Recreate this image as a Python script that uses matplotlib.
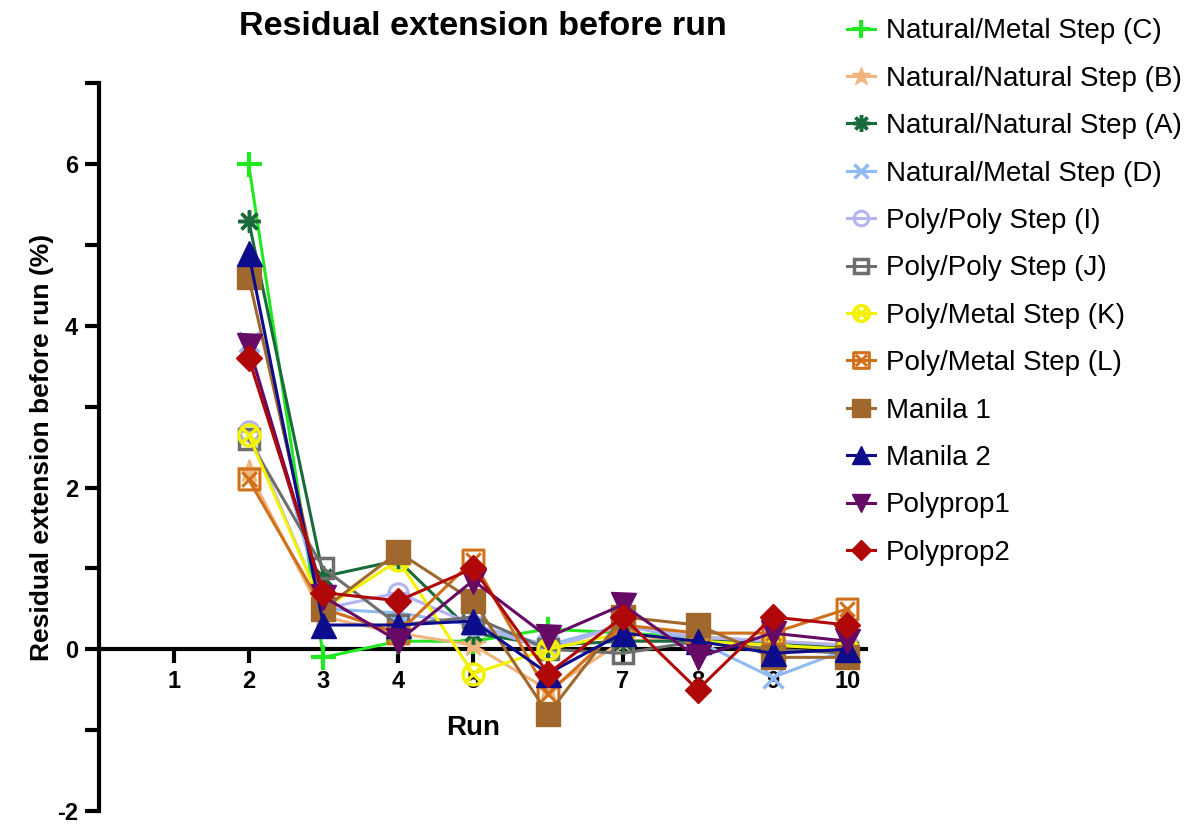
import numpy as np
import matplotlib.pyplot as plt
from matplotlib.path import Path

plt.rcParams['font.family'] = ['Liberation Sans', 'DejaVu Sans']
plt.rcParams['axes.unicode_minus'] = False

runs = [2, 3, 4, 5, 6, 7, 8, 9, 10]

labels = ['Natural/Metal Step (C)', 'Natural/Natural Step (B)', 'Natural/Natural Step (A)',
          'Natural/Metal Step (D)', 'Poly/Poly Step (I)', 'Poly/Poly Step (J)',
          'Poly/Metal Step (K)', 'Poly/Metal Step (L)', 'Manila 1', 'Manila 2',
          'Polyprop1', 'Polyprop2']

step_c = [6.0, -0.1, 0.1, 0.1, 0.25, 0.2, 0.15, 0.1, 0.0]
step_b = [2.2, 0.4, 0.2, 0.05, -0.5, 0.1, 0.15, 0.1, 0.05]
step_a = [5.3, 0.9, 1.1, 0.2, 0.05, 0.1, 0.1, 0.1, 0.0]
step_d = [3.8, 0.5, 0.45, 0.3, 0.05, 0.3, 0.1, -0.35, 0.0]
step_i = [2.7, 0.5, 0.7, 0.3, 0.0, 0.3, 0.15, 0.1, 0.05]
step_j = [2.6, 1.0, 0.3, 0.4, 0.0, -0.05, 0.1, 0.0, -0.05]
step_k = [2.65, 0.5, 1.1, -0.3, 0.0, 0.2, 0.1, 0.05, 0.0]
step_l = [2.1, 0.5, 0.2, 1.1, -0.55, 0.3, 0.2, 0.2, 0.5]
manila1 = [4.6, 0.5, 1.2, 0.6, -0.8, 0.4, 0.3, -0.1, -0.1]
manila2 = [4.9, 0.3, 0.3, 0.35, -0.3, 0.2, 0.1, -0.05, 0.0]
polyprop1 = [3.75, 0.65, 0.1, 0.85, 0.15, 0.55, -0.1, 0.2, 0.1]
polyprop2 = [3.6, 0.7, 0.6, 1.0, -0.3, 0.4, -0.5, 0.4, 0.3]

series = [step_c, step_b, step_a, step_d, step_i, step_j, step_k, step_l,
          manila1, manila2, polyprop1, polyprop2]

colors = ['#22e822', '#f0b47c', '#1a6b3c', '#8fbaf2', '#b4b4f2', '#6e6e6e',
          '#f2f200', '#d0701a', '#a0682c', '#0c0c8c', '#660a66', '#b00808']


# circle / square with an x inside
def boxed_x(outline):
    cross = Path([(-0.7, -0.7), (0.7, 0.7), (-0.7, 0.7), (0.7, -0.7)],
                 [Path.MOVETO, Path.LINETO, Path.MOVETO, Path.LINETO])
    return Path.make_compound_path(outline, cross)


circ_x = boxed_x(Path.unit_circle())
sq = Path([(-1, -1), (1, -1), (1, 1), (-1, 1), (-1, -1)],
          [Path.MOVETO, Path.LINETO, Path.LINETO, Path.LINETO, Path.CLOSEPOLY])
sq_x = boxed_x(sq)
circ_line = Path.make_compound_path(
    Path.unit_circle(), Path([(-1, 0), (1, 0)], [Path.MOVETO, Path.LINETO]))

styles = [
    dict(marker='+', ms=18, mew=3),
    dict(marker='*', ms=18),
    dict(marker=(8, 2, 0), ms=16, mew=2.5),
    dict(marker='x', ms=14, mew=2.5),
    dict(marker=circ_line, ms=14, mfc='none', mew=2.2),
    dict(marker='s', ms=14, mfc='none', mew=2.5),
    dict(marker=circ_x, ms=15, mfc='none', mew=2.5),
    dict(marker=sq_x, ms=15, mfc='none', mew=2.2),
    dict(marker='s', ms=17),
    dict(marker='^', ms=18),
    dict(marker='v', ms=18),
    dict(marker='D', ms=13),
]

fig = plt.figure(figsize=(11.95, 8.25), dpi=100)
ax = fig.add_axes([0.0828, 0.017, 0.642, 0.882])

for vals, lab, col, st in zip(series, labels, colors, styles):
    ax.plot(runs, vals, color=col, lw=2.2, label=lab, clip_on=False, **st)

ax.set_xlim(0, 10.25)
ax.set_ylim(-2, 7)
ax.spines['left'].set_position(('data', 0))
ax.spines['bottom'].set_position(('data', 0))
ax.spines['top'].set_visible(False)
ax.spines['right'].set_visible(False)
for s in ['left', 'bottom']:
    ax.spines[s].set_linewidth(3)
    ax.spines[s].set_zorder(0.5)

ax.set_xticks(range(1, 11))
ax.set_yticks([-2, 0, 2, 4, 6])
ax.set_yticks([-1, 1, 3, 5, 7], minor=True)
ax.tick_params(axis='both', which='major', width=3, length=10, labelsize=17, pad=5)
ax.tick_params(axis='y', which='minor', width=3, length=10)
for t in ax.get_xticklabels() + ax.get_yticklabels():
    t.set_fontweight('bold')

ax.set_xlabel('Run', fontsize=20, fontweight='bold')
ax.xaxis.set_label_coords(0.488, 0.132)
ax.set_ylabel('Residual extension before run (%)', fontsize=19, fontweight='bold', labelpad=2)
ax.set_title('Residual extension before run', fontsize=24.5, fontweight='bold', pad=35)

fig.legend(loc='upper left', bbox_to_anchor=(0.688, 1.008), frameon=False,
           fontsize=20, labelspacing=0.77, handlelength=1.0, handletextpad=0.4,
           markerscale=0.75)

fig.savefig('out.png', dpi=100)
